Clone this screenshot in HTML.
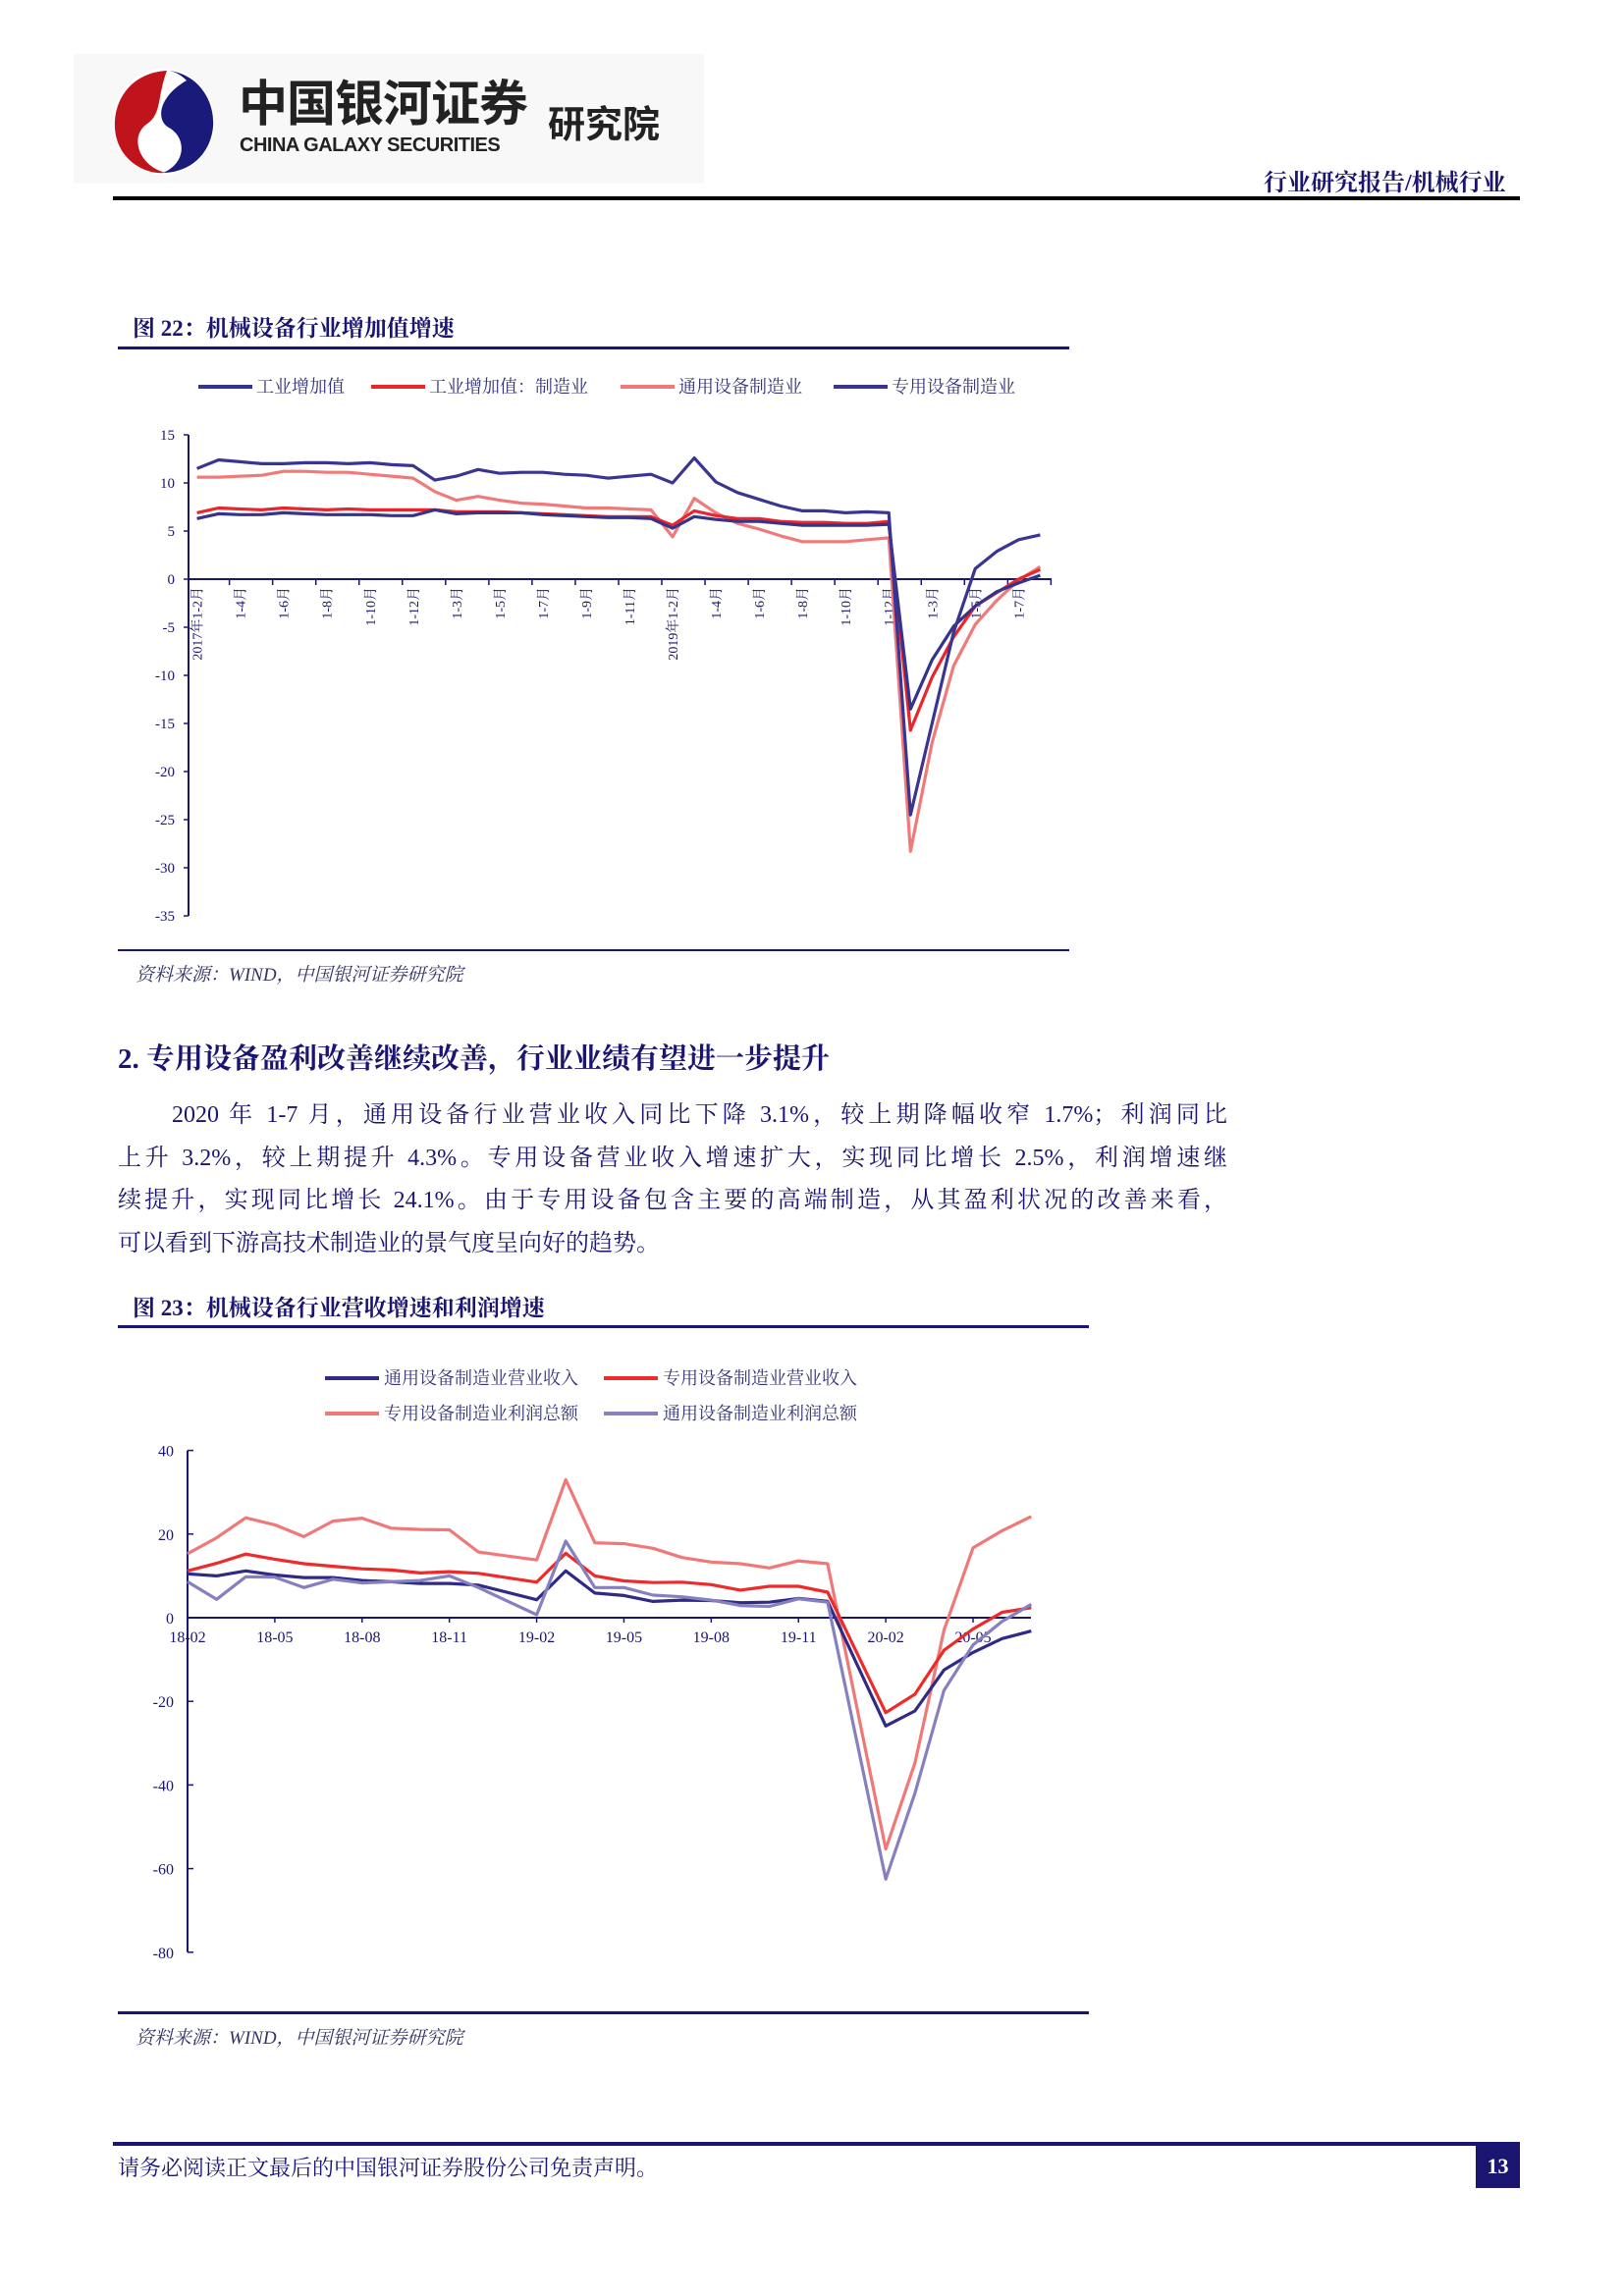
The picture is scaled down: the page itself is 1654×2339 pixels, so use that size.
<!DOCTYPE html>
<html><head><meta charset="utf-8">
<style>
body{margin:0;background:#fff;}
#page{position:relative;width:1654px;height:2339px;overflow:hidden;background:#fff;font-family:"Liberation Serif","Noto Serif CJK SC",serif;color:#1a1570;}
.abs{position:absolute;white-space:nowrap;}
.para{position:absolute;left:120px;width:1130px;font-size:24px;color:#1a1570;text-align:justify;text-align-last:justify;white-space:nowrap;}
svg text{font-family:"Liberation Serif","Noto Serif CJK SC",serif;}
</style></head>
<body>
<div id="page">
  <div class="abs" style="left:75px;top:55px;width:642px;height:132px;background:#f8f8f8;"></div>
  <svg class="abs" style="left:110px;top:68px" width="115" height="112" viewBox="0 0 115 112">
    <ellipse cx="57" cy="56" rx="52" ry="54" fill="#fff"/>
    <path d="M60 4 C20 6 2 40 8 70 C14 98 40 110 58 108 C30 100 22 70 40 58 C55 48 50 30 60 4Z" fill="#c0141c"/>
    <path d="M62 4 C95 8 112 40 106 68 C100 95 78 108 56 108 C80 98 80 72 62 62 C48 54 52 30 80 14 C74 8 68 5 62 4Z" fill="#1a1a7a"/>
  </svg>
  <div class="abs" style="left:243px;top:80px;font-size:50px;line-height:52px;font-weight:bold;color:#222;font-family:'Liberation Sans','Noto Sans CJK SC',sans-serif;letter-spacing:-1px;">中国银河证券</div>
  <div class="abs" style="left:244px;top:137px;font-size:20px;line-height:22px;font-weight:bold;color:#222;font-family:'Liberation Sans',sans-serif;letter-spacing:-0.5px;">CHINA GALAXY SECURITIES</div>
  <div class="abs" style="left:558px;top:96px;font-size:38px;font-weight:bold;color:#222;font-family:'Liberation Sans','Noto Sans CJK SC',sans-serif;">研究院</div>
  <div class="abs" style="left:1287px;top:166px;font-size:24px;font-weight:bold;color:#1a1570;">行业研究报告/机械行业</div>
  <div class="abs" style="left:115px;top:200px;width:1433px;height:4px;background:#000;"></div>

  <div class="abs" style="left:135px;top:316px;font-size:23px;font-weight:bold;color:#1a1570;">图 22：机械设备行业增加值增速</div>
  <div class="abs" style="left:120px;top:353px;width:969px;height:3px;background:#1a1570;"></div>
  <div class="abs" style="left:120px;top:967px;width:969px;height:2px;background:#1a1570;"></div>
  <div class="abs" style="left:138px;top:978px;font-size:19px;font-style:italic;color:#333366;">资料来源：WIND，中国银河证券研究院</div>

  <div class="abs" style="left:120px;top:1056px;font-size:29px;font-weight:bold;color:#1a1570;">2. 专用设备盈利改善继续改善，行业业绩有望进一步提升</div>
  <div class="para" style="top:1115px;left:175px;width:1075px;">2020 年 1-7 月，通用设备行业营业收入同比下降 3.1%，较上期降幅收窄 1.7%；利润同比</div>
  <div class="para" style="top:1159px;">上升 3.2%，较上期提升 4.3%。专用设备营业收入增速扩大，实现同比增长 2.5%，利润增速继</div>
  <div class="para" style="top:1202px;">续提升，实现同比增长 24.1%。由于专用设备包含主要的高端制造，从其盈利状况的改善来看，</div>
  <div class="abs" style="left:120px;top:1246px;font-size:24px;">可以看到下游高技术制造业的景气度呈向好的趋势。</div>

  <div class="abs" style="left:135px;top:1314px;font-size:23px;font-weight:bold;color:#1a1570;">图 23：机械设备行业营收增速和利润增速</div>
  <div class="abs" style="left:120px;top:1350px;width:989px;height:3px;background:#1a1570;"></div>
  <div class="abs" style="left:120px;top:2049px;width:989px;height:3px;background:#1a1570;"></div>
  <div class="abs" style="left:138px;top:2061px;font-size:19px;font-style:italic;color:#333366;">资料来源：WIND，中国银河证券研究院</div>

  <div class="abs" style="left:115px;top:2182px;width:1433px;height:4px;background:#1a1570;"></div>
  <div class="abs" style="left:120px;top:2192px;font-size:22px;color:#1a1570;">请务必阅读正文最后的中国银河证券股份公司免责声明。</div>
  <div class="abs" style="left:1503px;top:2184px;width:45px;height:45px;background:#1a1570;color:#fff;font-size:22px;font-weight:bold;text-align:center;line-height:45px;">13</div>

  <svg id="charts" class="abs" style="left:0;top:0" width="1654" height="2339"></svg>
</div>
<script>
// ---------- Figure 22 data ----------
const c1Labels = ["2017年1-2月","","1-4月","","1-6月","","1-8月","","1-10月","","1-12月","","1-3月","","1-5月","","1-7月","","1-9月","","1-11月","","2019年1-2月","","1-4月","","1-6月","","1-8月","","1-10月","","1-12月","","1-3月","","1-5月","","1-7月",""];
const c1Industry = [6.3,6.8,6.7,6.7,6.9,6.8,6.7,6.7,6.7,6.6,6.6, 7.2,6.8,6.9,6.9,6.9,6.7,6.6,6.5,6.4,6.4,6.3, 5.3,6.5,6.2,6.0,6.0,5.8,5.6,5.6,5.6,5.6,5.7, -13.5,-8.4,-4.9,-2.8,-1.3,-0.4,0.4];
const c1Manufacturing = [6.9,7.4,7.3,7.2,7.4,7.3,7.2,7.3,7.2,7.2,7.2, 7.2,7.0,7.0,7.0,6.9,6.8,6.7,6.6,6.5,6.5,6.5, 5.6,7.1,6.6,6.3,6.3,6.0,5.9,5.9,5.8,5.8,6.0, -15.7,-10.2,-6.0,-2.8,-1.4,0.0,1.0];
const c1General = [10.6,10.6,10.7,10.8,11.2,11.2,11.1,11.1,10.9,10.7,10.5, 9.1,8.2,8.6,8.2,7.9,7.8,7.6,7.4,7.4,7.3,7.2, 4.4,8.4,6.9,5.8,5.2,4.5,3.9,3.9,3.9,4.1,4.3, -28.3,-17.0,-9.0,-4.7,-2.2,-0.1,1.3];
const c1Special = [11.5,12.4,12.2,12.0,12.0,12.1,12.1,12.0,12.1,11.9,11.8, 10.3,10.7,11.4,11.0,11.1,11.1,10.9,10.8,10.5,10.7,10.9, 10.0,12.6,10.1,9.0,8.3,7.6,7.1,7.1,6.9,7.0,6.9, -24.5,-15.0,-5.5,1.1,2.9,4.1,4.6];
const c1Ticks = [15,10,5,0,-5,-10,-15,-20,-25,-30,-35];
const c1Names = ["工业增加值","工业增加值：制造业","通用设备制造业","专用设备制造业"];

// ---------- Figure 23 data ----------
const c2Dates = ["18-02","18-03","18-04","18-05","18-06","18-07","18-08","18-09","18-10","18-11","18-12","19-02","19-03","19-04","19-05","19-06","19-07","19-08","19-09","19-10","19-11","19-12","20-02","20-03","20-04","20-05","20-06","20-07"];
const c2GeneralRev = [10.5,10.0,11.2,10.2,9.6,9.6,8.9,8.6,8.2,8.2,7.8,4.3,11.2,5.9,5.3,3.9,4.2,4.1,3.6,3.7,4.6,3.9,-25.9,-22.3,-12.5,-8.3,-5.0,-3.2];
const c2SpecialRev = [11.2,13.0,15.2,14.0,12.9,12.3,11.7,11.4,10.7,11.0,10.6,8.5,15.4,10.0,8.8,8.4,8.5,7.9,6.6,7.5,7.5,6.1,-22.7,-18.3,-7.8,-2.7,1.3,2.4];
const c2SpecialProfit = [15.3,19.1,23.9,22.2,19.4,23.1,23.8,21.4,21.1,21.0,15.7,13.8,33.0,17.9,17.7,16.6,14.4,13.3,12.9,11.9,13.6,12.9,-55.3,-34.8,-3.0,16.7,20.8,24.2];
const c2GeneralProfit = [8.6,4.4,9.8,9.7,7.2,9.2,8.3,8.6,8.9,10.0,7.2,0.7,18.3,7.2,7.2,5.4,5.0,4.2,2.9,2.7,4.5,3.7,-62.5,-42.0,-17.4,-6.5,-0.9,3.2];
const c2Ticks = [40,20,0,-20,-40,-60,-80];
const c2TickLabels = ["18-02","18-05","18-08","18-11","19-02","19-05","19-08","19-11","20-02","20-05"];
const c2Names = ["通用设备制造业营业收入","专用设备制造业营业收入","专用设备制造业利润总额","通用设备制造业利润总额"];

const NS = "http://www.w3.org/2000/svg";
const svg = document.getElementById('charts');
function mk(tag, attrs, parent){
  const e = document.createElementNS(NS, tag);
  for (const k in attrs) e.setAttribute(k, attrs[k]);
  (parent||svg).appendChild(e);
  return e;
}
const AX = "#1a1570";

// ===== Chart 1 =====
const g1 = mk('g', {});


const c1x = i => 200.6 + i * 22.02;
const c1y = v => 590 - v * 9.8;
c1Ticks.forEach(t => {
  const tl = mk('text', {x:178, y:c1y(t)+5, 'text-anchor':'end', 'font-size':15, fill:AX}, g1);
  tl.textContent = String(t);
  
  
  mk('line', {x1:187, x2:192, y1:c1y(t), y2:c1y(t), stroke:AX, 'stroke-width':1.5}, g1);
});
const ya1 = mk('line', {x1:192, x2:192, y1:c1y(15), y2:c1y(-35), stroke:AX, 'stroke-width':2}, g1);


const xa1 = mk('line', {x1:192, x2:1071, y1:c1y(0), y2:c1y(0), stroke:AX, 'stroke-width':2}, g1);


c1Labels.forEach((lab, i) => {
  if (i % 2 === 1) mk('line', {x1:c1x(i)-11+22, x2:c1x(i)-11+22, y1:c1y(0), y2:c1y(0)+6, stroke:AX, 'stroke-width':1.5}, g1);
  if (!lab) return;
  const px = c1x(i) + 5, py = c1y(0) + 8;
  const tl = mk('text', {x:px, y:py, 'text-anchor':'end', 'font-size':14, fill:AX, transform:`rotate(-90 ${px} ${py})`}, g1);
  tl.textContent = lab;
  
  
});
const c1Series = [[c1Industry,"#35338a"],[c1Manufacturing,"#e8262b"],[c1General,"#f07a7a"],[c1Special,"#3a3590"]];
const c1SeriesNames = ['line-industry-value-added','line-manufacturing-value-added','line-general-equipment','line-special-equipment'];
[2,1,0,3].forEach(k => {
  const [vals, col] = c1Series[k];
  const p = mk('polyline', {points: vals.map((v,i)=>c1x(i).toFixed(1)+','+c1y(v).toFixed(1)).join(' '), fill:'none', stroke:col, 'stroke-width':3.2, 'stroke-linejoin':'round'}, g1);
  
  
});
const lg1x = [202, 378, 632, 849];
c1Names.forEach((n, k) => {
  const g = mk('g', {}, g1);
  
  
  mk('line', {x1:lg1x[k], x2:lg1x[k]+55, y1:394, y2:394, stroke:c1Series[k][1], 'stroke-width':4}, g);
  const t = mk('text', {x:lg1x[k]+59, y:400, 'font-size':18, fill:"#333377"}, g);
  t.textContent = n;
});

// ===== Chart 2 =====
const g2 = mk('g', {});


const monthIdx = d => { const [yy, mm] = d.split('-').map(Number); return (yy-18)*12 + (mm-2); };
const c2x = d => 191 + monthIdx(d) * 29.63;
const c2y = v => 1648 - v * 4.26;
c2Ticks.forEach(t => {
  const tl = mk('text', {x:177, y:c2y(t)+6, 'text-anchor':'end', 'font-size':16, fill:AX}, g2);
  tl.textContent = String(t);
  
  
  mk('line', {x1:191, x2:197, y1:c2y(t), y2:c2y(t), stroke:AX, 'stroke-width':1.5}, g2);
});
const ya2 = mk('line', {x1:191, x2:191, y1:c2y(40), y2:c2y(-80), stroke:AX, 'stroke-width':2}, g2);


const xa2 = mk('line', {x1:191, x2:1050, y1:c2y(0), y2:c2y(0), stroke:AX, 'stroke-width':2}, g2);


c2TickLabels.forEach(d => {
  mk('line', {x1:c2x(d), x2:c2x(d), y1:c2y(0), y2:c2y(0)+5, stroke:AX, 'stroke-width':1.5}, g2);
  const tl = mk('text', {x:c2x(d), y:c2y(0)+25, 'text-anchor':'middle', 'font-size':16, fill:AX}, g2);
  tl.textContent = d;
  
  
});
const c2Series = [[c2GeneralRev,"#2e2a86"],[c2SpecialRev,"#ee2a2a"],[c2SpecialProfit,"#f07878"],[c2GeneralProfit,"#8680c0"]];
const c2SeriesNames = ['line-general-revenue','line-special-revenue','line-special-profit','line-general-profit'];
[2,1,0,3].forEach(k => {
  const [vals, col] = c2Series[k];
  const p = mk('polyline', {points: vals.map((v,i)=>c2x(c2Dates[i]).toFixed(1)+','+c2y(v).toFixed(1)).join(' '), fill:'none', stroke:col, 'stroke-width':3.2, 'stroke-linejoin':'round'}, g2);
  
  
});
const lg2 = [[331,1404],[615,1404],[331,1440],[615,1440]];
c2Names.forEach((n, k) => {
  const g = mk('g', {}, g2);
  
  
  mk('line', {x1:lg2[k][0], x2:lg2[k][0]+55, y1:lg2[k][1], y2:lg2[k][1], stroke:c2Series[k][1], 'stroke-width':4}, g);
  const t = mk('text', {x:lg2[k][0]+60, y:lg2[k][1]+6, 'font-size':18, fill:"#333377"}, g);
  t.textContent = n;
});
</script>
</body></html>
